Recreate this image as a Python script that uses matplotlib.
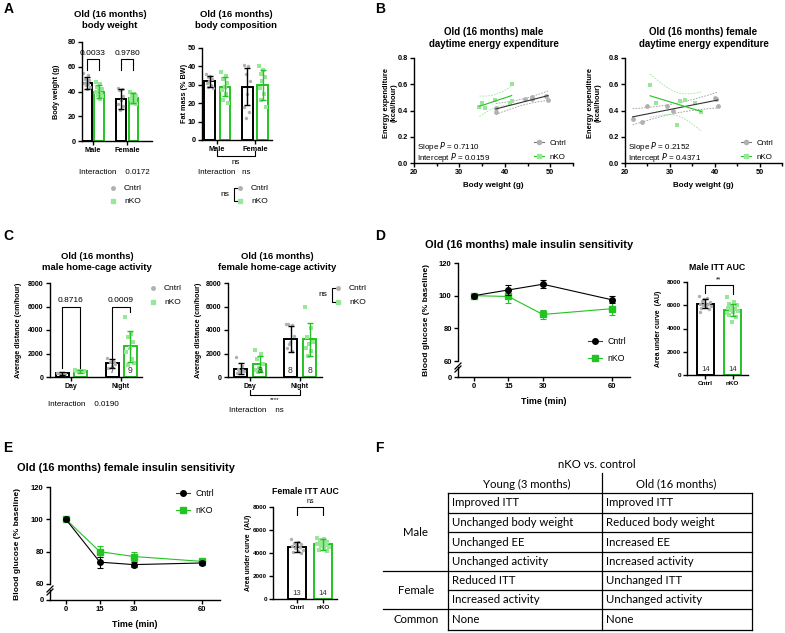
import numpy as np
import matplotlib
matplotlib.use('Agg')
import matplotlib.pyplot as plt
from matplotlib.lines import Line2D

W, H = 785, 633
plt.rcParams['font.family'] = ['Liberation Sans', 'DejaVu Sans']
plt.rcParams['axes.linewidth'] = 1.0

GREEN = '#22c322'
LGREEN = '#98e698'
GRAY = '#b0b0b0'
T975 = {3: 3.182, 4: 2.776, 5: 2.571, 6: 2.447, 7: 2.365, 8: 2.306, 9: 2.262, 10: 2.228}

# ---- A: body weight / body composition
sex_groups = ['Male', 'Female']
bw_cntrl_mean = [47, 34]
bw_cntrl_sd = [5, 8]
bw_nko_mean = [40, 35]
bw_nko_sd = [5, 4]
bw_cntrl_pts = [[55, 53, 50, 49, 48, 47, 46, 45, 44, 42], [43, 42, 41, 36, 33, 30, 28, 25]]
bw_nko_pts = [[48, 46, 44, 42, 41, 40, 38, 37, 36, 34], [40, 38, 37, 36, 35, 34, 33, 31, 30]]
bw_pvals = ['0.0033', '0.9780']

fat_cntrl_mean = [32, 29]
fat_cntrl_sd = [3, 10]
fat_nko_mean = [29, 30]
fat_nko_sd = [5, 8]
fat_cntrl_pts = [[36, 35, 34, 33, 32, 31, 30, 29, 28], [41, 40, 36, 32, 25, 18, 15, 12]]
fat_nko_pts = [[37, 35, 33, 31, 29, 27, 25, 22, 20], [40, 38, 36, 34, 32, 28, 25, 22, 18]]

# ---- B: energy expenditure vs body weight
ee_m_cntrl_x = [38, 38, 44.5, 46, 46, 49, 49.5]
ee_m_cntrl_y = [0.42, 0.385, 0.49, 0.505, 0.49, 0.51, 0.48]
ee_m_nko_x = [34.4, 34.9, 35.6, 37.8, 41.5, 41.5, 41.2]
ee_m_nko_y = [0.43, 0.46, 0.42, 0.48, 0.474, 0.60, 0.46]
ee_f_cntrl_x = [21.7, 23.7, 24.8, 29.3, 30.7, 40.0, 40.7, 40.2]
ee_f_cntrl_y = [0.333, 0.31, 0.436, 0.436, 0.40, 0.495, 0.436, 0.49]
ee_f_nko_x = [25.6, 26.9, 31.5, 32.2, 33.3, 35.6, 37.0]
ee_f_nko_y = [0.595, 0.454, 0.287, 0.474, 0.48, 0.46, 0.385]
ee_m_stats = ['0.7110', '0.0159']
ee_f_stats = ['0.2152', '0.4371']

# ---- C: home-cage activity
phase = ['Day', 'Night']
act_m_cntrl_mean = [300, 1150]
act_m_cntrl_sd = [100, 350]
act_m_nko_mean = [480, 2600]
act_m_nko_sd = [150, 1350]
act_m_cntrl_pts = [[380, 330, 300, 280, 250, 350, 220], [1600, 1400, 1250, 1100, 950, 800, 1300]]
act_m_nko_pts = [[620, 550, 480, 450, 420, 520, 400, 480, 500], [5100, 3700, 3400, 3000, 2500, 2100, 1500, 1000, 1200]]
act_m_pvals = ['0.8716', '0.0009']
act_m_n = [7, 9]
act_f_cntrl_mean = [700, 3200]
act_f_cntrl_sd = [450, 1100]
act_f_nko_mean = [1100, 3200]
act_f_nko_sd = [700, 1400]
act_f_cntrl_pts = [[1700, 900, 700, 500, 400, 300, 600, 500], [4500, 4400, 4550, 3500, 3000, 2500, 2200, 2800]]
act_f_nko_pts = [[2300, 2000, 1500, 1100, 800, 600, 500, 400], [6000, 4200, 3400, 3000, 2800, 2500, 2200, 1800]]
act_f_n = [8, 8]

# ---- D/E: insulin tolerance
itt_time = [0, 15, 30, 60]
m_itt_cntrl = [100, 103.5, 107, 97.5]
m_itt_cntrl_sd = [0.5, 3, 2.5, 2]
m_itt_nko = [100, 99.5, 88.5, 92]
m_itt_nko_sd = [0.5, 4, 2.5, 4]
f_itt_cntrl = [100, 73.5, 72, 73]
f_itt_cntrl_sd = [0.5, 3.5, 1.5, 1.5]
f_itt_nko = [100, 80, 77, 74]
f_itt_nko_sd = [0.5, 3.5, 2.5, 1.5]

auc_groups = ['Cntrl', 'nKO']
m_auc_mean = [6150, 5600]
m_auc_sd = [400, 500]
m_auc_pts = [[6800, 6600, 6400, 6300, 6200, 6100, 6100, 6000, 5900, 5900, 5800, 5700, 6500, 5400],
             [6700, 6300, 6100, 6000, 5900, 5800, 5700, 5600, 5500, 5400, 5200, 5000, 4600, 5300]]
m_auc_n = [14, 14]
f_auc_mean = [4550, 4750]
f_auc_sd = [450, 450]
f_auc_pts = [[5200, 5000, 4900, 4800, 4700, 4600, 4500, 4400, 4300, 4200, 4100, 4000, 4700],
             [5300, 5200, 5100, 5000, 4900, 4800, 4700, 4600, 4500, 4400, 4300, 4200, 5000, 4800]]
f_auc_n = [13, 14]

# ---- F: summary table
tbl_cols = ['Young (3 months)', 'Old (16 months)']
tbl_groups = ['Male', 'Female', 'Common']
tbl_young = ['Improved ITT', 'Unchanged body weight', 'Unchanged EE', 'Unchanged activity',
             'Reduced ITT', 'Increased activity', 'None']
tbl_old = ['Improved ITT', 'Reduced body weight', 'Increased EE', 'Increased activity',
           'Unchanged ITT', 'Unchanged activity', 'None']

fig = plt.figure(figsize=(W / 100, H / 100), dpi=100)


def fx(x):
    return x / W


def fy(y):
    return 1 - y / H


def ftext(x, y, s, size=6, weight='normal', ha='left', va='center', **kw):
    fig.text(fx(x), fy(y), s, fontsize=size, fontweight=weight, ha=ha, va=va, **kw)


def fline(xs, ys, **kw):
    kw.setdefault('color', 'k')
    kw.setdefault('lw', 0.8)
    fig.add_artist(Line2D([fx(x) for x in xs], [fy(y) for y in ys], **kw))


def pax(box):
    l, t, r, b = box
    return fig.add_axes([l / W, 1 - b / H, (r - l) / W, (b - t) / H])


def style(ax, xt, xl, yt, yl, size=5.3):
    for s in ['top', 'right']:
        ax.spines[s].set_visible(False)
    ax.set_xticks(xt)
    ax.set_xticklabels(xl, fontweight='bold', fontsize=size)
    ax.set_yticks(yt)
    ax.set_yticklabels(yl, fontweight='bold', fontsize=size)
    ax.tick_params(direction='out', length=3, width=1, pad=1.5)


def bars(ax, means_c, sd_c, means_k, sd_k, pts_c, pts_k, off, width):
    for i in range(len(means_c)):
        sets = [(means_c[i], sd_c[i], pts_c[i], -off, 'k', GRAY, 'o'),
                (means_k[i], sd_k[i], pts_k[i], off, GREEN, LGREEN, 's')]
        for m, s, pts, dx, ec, pc, mk in sets:
            ax.bar(i + dx, m, width, facecolor='white', edgecolor=ec, lw=1.4, zorder=1)
            n = len(pts)
            jit = ((np.arange(n) * 0.618) % 1 - 0.5) * width * 0.7
            ax.scatter(i + dx + jit, pts, s=6, marker=mk, color=pc, lw=0, zorder=2)
            ax.errorbar(i + dx, m, yerr=s, color=ec, capsize=2, lw=1, capthick=1, zorder=3)


def bracket(ax, x1, x2, y1, y2, top, label, size=6, dy=0):
    ax.plot([x1, x1, x2, x2], [y1, top, top, y2], color='k', lw=0.8, clip_on=False)
    ax.text((x1 + x2) / 2, top + dy, label, ha='center', va='bottom', fontsize=size, clip_on=False)


def leg_marks(x, y1, y2, ns=None):
    fline([x], [y1], marker='o', ms=2.5, color=GRAY, ls='none')
    fline([x], [y2], marker='s', ms=2.5, color=LGREEN, ls='none')
    ftext(x + 11, y1, 'Cntrl', size=6)
    ftext(x + 11, y2, 'nKO', size=6)
    if ns is not None:
        fline([x - 3, x - 6, x - 6, x - 3], [y1, y1, y2, y2])
        ftext(x - 11, (y1 + y2) / 2, 'ns', size=6, ha='right')


# panel letters
for s, x, y in [('A', 4, 9), ('B', 375, 9), ('C', 3, 236), ('D', 375, 236), ('E', 3, 448), ('F', 375, 448)]:
    ftext(x, y, s, size=10, weight='bold')

# ---------- A1 body weight
ax = pax((82, 42, 152, 141))
bars(ax, bw_cntrl_mean, bw_cntrl_sd, bw_nko_mean, bw_nko_sd, bw_cntrl_pts, bw_nko_pts, 0.18, 0.28)
ax.set_xlim(-0.32, 1.72)
ax.set_ylim(0, 80)
style(ax, [0, 1], sex_groups, [0, 20, 40, 60, 80], ['0', '20', '40', '60', '80'])
for i, p in enumerate(bw_pvals):
    bracket(ax, i - 0.18, i + 0.18, 57, 57, 66, p, dy=1.5)
ftext(110, 20, 'Old (16 months)\nbody weight', size=6.8, weight='bold', ha='center', linespacing=1.25)
ftext(56, 92, 'Body weight (g)', size=5.2, weight='bold', ha='center', rotation=90)
ftext(79, 173, 'Interaction    0.0172', size=5.8)
leg_marks(113, 188, 201)

# ---------- A2 fat mass
ax = pax((202, 48, 272, 140))
bars(ax, fat_cntrl_mean, fat_cntrl_sd, fat_nko_mean, fat_nko_sd, fat_cntrl_pts, fat_nko_pts, 0.2, 0.27)
ax.set_xlim(-0.4, 1.45)
ax.set_ylim(0, 50)
style(ax, [0, 1], sex_groups, [0, 10, 20, 30, 40, 50], ['0', '10', '20', '30', '40', '50'])
ftext(236, 20, 'Old (16 months)\nbody composition', size=6.8, weight='bold', ha='center', linespacing=1.25)
ftext(184, 93, 'Fat mass (% BW)', size=5.2, weight='bold', ha='center', rotation=90)
fline([217, 217, 255, 255], [151, 156, 156, 151])
ftext(236, 163, 'ns', size=5.8, ha='center')
ftext(198, 173, 'Interaction   ns', size=5.8)
leg_marks(240, 188, 201, ns=True)


# ---------- B energy expenditure
def ee_panel(box, xc, yc, xk, yk, stats, title, ylab_x, leg_x):
    ax = pax(box)
    sets = [(xc, yc, '#333333', GRAY, 'o', '#9a9a9a'), (xk, yk, GREEN, LGREEN, 's', LGREEN)]
    for xs, ys, lc, pc, mk, cic in sets:
        xs = np.array(xs)
        ys = np.array(ys)
        ax.scatter(xs, ys, s=12, marker=mk, color=pc, lw=0, zorder=2)
        b1, b0 = np.polyfit(xs, ys, 1)
        xx = np.linspace(xs.min(), xs.max(), 60)
        n = len(xs)
        resid = ys - (b0 + b1 * xs)
        sres = np.sqrt(np.sum(resid ** 2) / (n - 2))
        se = sres * np.sqrt(1 / n + (xx - xs.mean()) ** 2 / np.sum((xs - xs.mean()) ** 2))
        t = T975[n - 2]
        fit = b0 + b1 * xx
        ax.plot(xx, fit, color=lc, lw=0.8, zorder=3)
        ax.plot(xx, fit + t * se, color=cic, lw=0.6, ls=(0, (2, 1.5)), zorder=1)
        ax.plot(xx, fit - t * se, color=cic, lw=0.6, ls=(0, (2, 1.5)), zorder=1)
    ax.set_xlim(20, 55)
    ax.set_ylim(0, 0.8)
    style(ax, [20, 30, 40, 50], ['20', '30', '40', '50'], [0, 0.2, 0.4, 0.6, 0.8],
          ['0.0', '0.2', '0.4', '0.6', '0.8'])
    ax.set_xticks([25, 35, 45, 55], minor=True)
    ax.tick_params(which='minor', direction='out', length=2, width=1)
    ax.set_xlabel('Body weight (g)', fontsize=5.8, fontweight='bold', labelpad=4)
    ax.text(0.02, 0.16, 'Slope $\\it{P}$ = ' + stats[0], transform=ax.transAxes, fontsize=5.8, va='center')
    ax.text(0.02, 0.05, 'Intercept $\\it{P}$ = ' + stats[1], transform=ax.transAxes, fontsize=5.8, va='center')
    cx = (box[0] + box[2]) / 2
    ftext(cx, 38, title, size=7, weight='bold', ha='center', linespacing=1.25)
    ftext(ylab_x, 103, 'Energy expenditure\n(kcal/hour)', size=5.4, weight='bold', ha='center',
          rotation=90, linespacing=1.2)
    handles = [Line2D([0], [0], color='#777777', lw=0.8, marker='o', ms=3, mfc=GRAY, mec=GRAY),
               Line2D([0], [0], color=GREEN, lw=0.8, marker='s', ms=3, mfc=LGREEN, mec=LGREEN)]
    ax.legend(handles, ['Cntrl', 'nKO'], loc='center left', bbox_to_anchor=(fx(leg_x), fy(150)),
              bbox_transform=fig.transFigure, frameon=False, fontsize=5.8, handlelength=1.3,
              handletextpad=0.6, labelspacing=0.75, borderpad=0, borderaxespad=0)


ee_panel((414, 58, 573, 163), ee_m_cntrl_x, ee_m_cntrl_y, ee_m_nko_x, ee_m_nko_y, ee_m_stats,
         'Old (16 months) male\ndaytime energy expenditure', 390, 534)
ee_panel((625, 58, 782, 163), ee_f_cntrl_x, ee_f_cntrl_y, ee_f_nko_x, ee_f_nko_y, ee_f_stats,
         'Old (16 months) female\ndaytime energy expenditure', 594, 741)

# ---------- C1 male activity
act_ticks = [0, 2000, 4000, 6000, 8000]
ax = pax((50, 283, 142, 377))
bars(ax, act_m_cntrl_mean, act_m_cntrl_sd, act_m_nko_mean, act_m_nko_sd, act_m_cntrl_pts, act_m_nko_pts, 0.18, 0.26)
ax.set_xlim(-0.42, 1.42)
ax.set_ylim(0, 8000)
style(ax, [0, 1], phase, act_ticks, [str(v) for v in act_ticks], size=5)
bracket(ax, -0.18, 0.18, 770, 770, 6000, act_m_pvals[0], dy=250)
bracket(ax, 0.82, 1.18, 1600, 5500, 6000, act_m_pvals[1], dy=250)
for i, n in enumerate(act_m_n):
    ax.text(1 + (2 * i - 1) * 0.18, 180, str(n), ha='center', va='bottom', fontsize=6.2, color='#333333')
ftext(97, 262, 'Old (16 months)\nmale home-cage activity', size=6.8, weight='bold', ha='center', linespacing=1.25)
ftext(19, 330, 'Average distance (cm/hour)', size=5.2, weight='bold', ha='center', rotation=90)
ftext(48, 404, 'Interaction    0.0190', size=5.8)
leg_marks(153, 288, 302)

# ---------- C2 female activity
ax = pax((228, 283, 322, 377))
bars(ax, act_f_cntrl_mean, act_f_cntrl_sd, act_f_nko_mean, act_f_nko_sd, act_f_cntrl_pts, act_f_nko_pts, 0.19, 0.26)
ax.set_xlim(-0.44, 1.44)
ax.set_ylim(0, 8000)
style(ax, [0, 1], phase, act_ticks, [str(v) for v in act_ticks], size=5)
ax.text(0.19, 180, str(act_f_n[0]), ha='center', va='bottom', fontsize=6.2, color='#333333')
for i in range(2):
    ax.text(1 + (2 * i - 1) * 0.19, 180, str(act_f_n[1]), ha='center', va='bottom', fontsize=6.2, color='#333333')
ftext(277, 262, 'Old (16 months)\nfemale home-cage activity', size=6.8, weight='bold', ha='center', linespacing=1.25)
ftext(198, 330, 'Average distance (cm/hour)', size=5.2, weight='bold', ha='center', rotation=90)
fline([250, 250, 300, 300], [390, 395, 395, 390])
ftext(275, 400, '****', size=4.5, ha='center')
ftext(229, 410, 'Interaction    ns', size=5.8)
leg_marks(338, 288, 302, ns=True)


# ---------- D / E insulin tolerance
def itt_panel(top_box, bot_box, cm, csd, km, ksd, title, title_xy, ylab_x, leg_xy):
    axt = pax(top_box)
    axb = pax(bot_box)
    axt.errorbar(itt_time, cm, yerr=csd, color='k', marker='o', ms=4, lw=0.8, capsize=2,
                 capthick=0.8, elinewidth=0.8, zorder=3, clip_on=False)
    axt.lines[-1].set_color('#404040')
    axt.errorbar(itt_time, km, yerr=ksd, color=GREEN, marker='s', ms=4, lw=0.8, capsize=2,
                 capthick=0.8, elinewidth=0.8, zorder=2, clip_on=False)
    for a in (axt, axb):
        a.set_xlim(-7, 68)
    axt.set_ylim(60, 120)
    style(axt, [], [], [60, 80, 100, 120], ['60', '80', '100', '120'], size=5.5)
    axt.spines['bottom'].set_visible(False)
    axt.tick_params(axis='x', length=0)
    axb.set_ylim(0, 10)
    style(axb, itt_time, [str(v) for v in itt_time], [0], ['0'], size=5.5)
    axb.set_xlabel('Time (min)', fontsize=6.4, fontweight='bold', labelpad=5)
    l = top_box[0]
    fline([l - 3, l + 3], [top_box[3] + 8, top_box[3] + 2], lw=0.9)
    fline([l - 3, l + 3], [top_box[3] + 11, top_box[3] + 5], lw=0.9)
    ftext(title_xy[0], title_xy[1], title, size=7.9, weight='bold')
    ftext(ylab_x, (top_box[1] + bot_box[3]) / 2, 'Blood glucose (% baseline)', size=6.1, weight='bold',
          ha='center', rotation=90)
    handles = [Line2D([0], [0], color='#404040', lw=0.8, marker='o', ms=4, mfc='k', mec='k'),
               Line2D([0], [0], color=GREEN, lw=0.8, marker='s', ms=4)]
    axt.legend(handles, ['Cntrl', 'nKO'], loc='center left', bbox_to_anchor=(fx(leg_xy[0]), fy(leg_xy[1])),
               bbox_transform=fig.transFigure, frameon=False, fontsize=6.3, handlelength=1.6,
               handletextpad=0.6, labelspacing=0.85, borderpad=0, borderaxespad=0)


def auc_panel(box, means, sds, pts, ns, width, xlim, title, ylab_x, sig, top, legs):
    ax = pax(box)
    sets = [('k', GRAY, 'o'), (GREEN, LGREEN, 's')]
    for i, (ec, pc, mk) in enumerate(sets):
        ax.bar(i, means[i], width, facecolor='white', edgecolor=ec, lw=1.4, zorder=1)
        n = len(pts[i])
        jit = ((np.arange(n) * 0.618) % 1 - 0.5) * width * 0.7
        ax.scatter(i + jit, pts[i], s=6, marker=mk, color=pc, lw=0, zorder=2)
        ax.errorbar(i, means[i], yerr=sds[i], color=ec, capsize=2, lw=1, capthick=1, zorder=3)
        ax.text(i, 200, str(ns[i]), ha='center', va='bottom', fontsize=5.6, color='#333333')
    ax.set_xlim(*xlim)
    ax.set_ylim(0, 8000)
    style(ax, [0, 1], auc_groups, act_ticks, [str(v) for v in act_ticks], size=4.6)
    ax.plot([0, 0, 1, 1], [legs[0], top, top, legs[1]], color='k', lw=0.8, clip_on=False)
    ax.text(0.5, top + 150, sig, ha='center', va='bottom', fontsize=5, clip_on=False)
    cx = (box[0] + box[2]) / 2
    ftext(cx, box[1] - 15, title, size=6.3, weight='bold', ha='center')
    ftext(ylab_x, (box[1] + box[3]) / 2, 'Area under curve  (AU)', size=5, weight='bold', ha='center', rotation=90)


itt_panel((458, 263, 630, 361), (458, 367, 630, 377), m_itt_cntrl, m_itt_cntrl_sd, m_itt_nko, m_itt_nko_sd,
          'Old (16 months) male insulin sensitivity', (425, 245), 427, (588, 350))
auc_panel((687, 282, 748, 375), m_auc_mean, m_auc_sd, m_auc_pts, m_auc_n, 0.63, (-0.67, 1.56),
          'Male ITT AUC', 658, '**', 7750, (7050, 7000))

itt_panel((50, 487, 220, 584), (50, 590, 220, 600), f_itt_cntrl, f_itt_cntrl_sd, f_itt_nko, f_itt_nko_sd,
          'Old (16 months) female insulin sensitivity', (17, 468), 18, (176, 502))
auc_panel((273, 507, 337, 599), f_auc_mean, f_auc_sd, f_auc_pts, f_auc_n, 0.7, (-0.92, 1.54),
          'Female ITT AUC', 248, 'ns', 8000, (7300, 7300))

# ---------- F table
tfont = ['Lato', 'DejaVu Sans']
row_lines = [493, 513, 532, 552, 571, 590, 609, 630]
c0, c1, c2, c3 = 383, 448, 602, 752
ftext(597, 464, 'nKO vs. control', size=8.2, ha='center', family=tfont)
ftext(527, 484, tbl_cols[0], size=8.2, ha='center', family=tfont)
ftext(676, 484, tbl_cols[1], size=8.2, ha='center', family=tfont)
fline([c2, c2], [473, row_lines[-1]], lw=0.9)
fline([c1, c1], [row_lines[0], row_lines[-1]], lw=0.9)
fline([c3, c3], [row_lines[0], row_lines[-1]], lw=0.9)
for i, y in enumerate(row_lines):
    left = c0 if i in (4, 6) else c1
    fline([left, c3], [y, y], lw=0.9)
for i in range(len(tbl_young)):
    yc = (row_lines[i] + row_lines[i + 1]) / 2
    ftext(c1 + 4, yc, tbl_young[i], size=8.2, family=tfont)
    ftext(c2 + 4, yc, tbl_old[i], size=8.2, family=tfont)
group_rows = [(0, 4), (4, 6), (6, 7)]
for g, (a, b) in zip(tbl_groups, group_rows):
    ftext(416, (row_lines[a] + row_lines[b]) / 2, g, size=8.2, ha='center', family=tfont)

fig.savefig('out.png', dpi=100)
